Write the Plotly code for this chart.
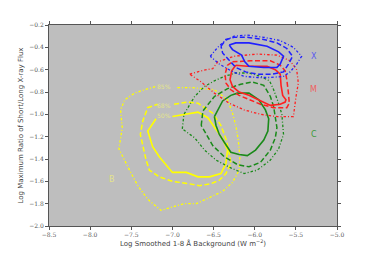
import plotly.graph_objects as go

# ---------------- data (data units) ----------------
# Yellow (B class)
b50_x = [-7.00, -6.86, -6.69, -6.57, -6.45, -6.39, -6.33, -6.35, -6.41, -6.55, -6.69, -6.83, -7.00, -7.16, -7.24, -7.30, -7.20]
b50_y = [-1.02, -1.00, -0.98, -1.03, -1.15, -1.22, -1.32, -1.44, -1.53, -1.56, -1.56, -1.52, -1.52, -1.38, -1.29, -1.15, -1.04]
b68_x = [-6.98, -6.81, -6.69, -6.51, -6.41, -6.35, -6.31, -6.29, -6.35, -6.43, -6.53, -6.67, -6.81, -7.00, -7.16, -7.28, -7.32, -7.36, -7.39, -7.36, -7.30, -7.18]
b68_y = [-0.91, -0.89, -0.90, -0.99, -1.10, -1.22, -1.34, -1.44, -1.53, -1.59, -1.62, -1.64, -1.62, -1.60, -1.56, -1.50, -1.41, -1.29, -1.18, -1.06, -0.94, -0.91]
b85_x = [-6.94, -6.77, -6.49, -6.33, -6.27, -6.23, -6.20, -6.18, -6.19, -6.27, -6.39, -6.57, -6.71, -6.86, -7.00, -7.14, -7.30, -7.42, -7.50, -7.58, -7.65, -7.61, -7.63, -7.58, -7.46, -7.34, -7.20]
b85_y = [-0.76, -0.76, -0.78, -0.87, -0.99, -1.10, -1.23, -1.38, -1.50, -1.61, -1.69, -1.75, -1.80, -1.80, -1.83, -1.86, -1.76, -1.64, -1.53, -1.41, -1.31, -1.12, -0.96, -0.87, -0.81, -0.78, -0.75]

# Green (C class)
c50_x = [-6.49, -6.39, -6.29, -6.21, -6.07, -5.95, -5.87, -5.83, -5.84, -5.89, -5.99, -6.09, -6.19, -6.29, -6.37, -6.43, -6.47, -6.49]
c50_y = [-1.02, -0.88, -0.83, -0.81, -0.81, -0.87, -0.96, -1.04, -1.15, -1.23, -1.32, -1.37, -1.36, -1.34, -1.25, -1.18, -1.10, -1.02]
c68_x = [-6.65, -6.63, -6.49, -6.33, -6.17, -6.03, -5.89, -5.81, -5.77, -5.75, -5.73, -5.75, -5.81, -5.93, -6.07, -6.21, -6.37, -6.51, -6.61, -6.65]
c68_y = [-1.10, -0.97, -0.84, -0.77, -0.73, -0.71, -0.74, -0.84, -0.93, -1.04, -1.12, -1.21, -1.32, -1.43, -1.47, -1.45, -1.38, -1.28, -1.16, -1.10]
c85_x = [-6.88, -6.86, -6.73, -6.61, -6.49, -6.37, -6.23, -6.07, -5.93, -5.82, -5.77, -5.71, -5.67, -5.65, -5.71, -5.81, -5.97, -6.13, -6.29, -6.47, -6.61, -6.73, -6.88]
c85_y = [-1.13, -1.00, -0.84, -0.75, -0.70, -0.66, -0.63, -0.63, -0.66, -0.70, -0.78, -0.90, -1.00, -1.18, -1.31, -1.41, -1.50, -1.53, -1.48, -1.41, -1.32, -1.21, -1.13]

# Red (M class)
m50_x = [-6.23, -6.09, -5.85, -5.75, -5.69, -5.68, -5.66, -5.62, -5.63, -5.69, -5.81, -5.93, -6.07, -6.19, -6.27, -6.30, -6.28, -6.23]
m50_y = [-0.56, -0.57, -0.57, -0.60, -0.64, -0.74, -0.83, -0.87, -0.89, -0.91, -0.92, -0.88, -0.83, -0.80, -0.75, -0.69, -0.61, -0.56]
m68_x = [-6.27, -6.05, -5.81, -5.69, -5.63, -5.61, -5.59, -5.58, -5.61, -5.77, -5.93, -6.07, -6.19, -6.29, -6.35, -6.36, -6.33, -6.27]
m68_y = [-0.53, -0.52, -0.52, -0.56, -0.61, -0.69, -0.81, -0.90, -0.94, -0.94, -0.91, -0.87, -0.83, -0.78, -0.72, -0.64, -0.56, -0.53]
m85_x = [-6.79, -6.65, -6.51, -6.45, -6.25, -5.97, -5.73, -5.57, -5.49, -5.47, -5.50, -5.53, -5.73, -5.93, -6.13, -6.31, -6.49, -6.65, -6.79]
m85_y = [-0.64, -0.61, -0.59, -0.53, -0.48, -0.46, -0.47, -0.52, -0.60, -0.72, -0.85, -1.02, -1.02, -1.00, -0.96, -0.90, -0.81, -0.71, -0.64]

# Blue (X class)
x50_x = [-6.31, -6.23, -6.07, -5.85, -5.71, -5.65, -5.69, -5.73, -5.89, -6.07, -6.12, -6.16, -6.27, -6.31]
x50_y = [-0.38, -0.36, -0.36, -0.39, -0.44, -0.48, -0.55, -0.58, -0.58, -0.57, -0.53, -0.47, -0.42, -0.38]
x68_x = [-6.41, -6.35, -6.25, -6.09, -5.89, -5.73, -5.61, -5.54, -5.59, -5.65, -5.79, -5.97, -6.11, -6.23, -6.33, -6.39, -6.41]
x68_y = [-0.39, -0.33, -0.31, -0.31, -0.33, -0.36, -0.41, -0.48, -0.55, -0.62, -0.64, -0.64, -0.62, -0.58, -0.50, -0.45, -0.39]
x85_x = [-6.54, -6.45, -6.36, -6.25, -6.09, -5.89, -5.69, -5.53, -5.43, -5.49, -5.57, -5.65, -5.81, -5.97, -6.13, -6.29, -6.43, -6.54]
x85_y = [-0.48, -0.40, -0.34, -0.30, -0.29, -0.31, -0.34, -0.40, -0.48, -0.55, -0.62, -0.66, -0.67, -0.67, -0.66, -0.61, -0.55, -0.48]

pct_labels = ["50%", "68%", "85%"]
pct_x = [-7.10, -7.10, -7.10]
pct_y = [-1.01, -0.92, -0.755]

class_labels = ["X", "M", "C", "B"]
class_x = [-5.28, -5.28, -5.28, -7.73]
class_y = [-0.48, -0.78, -1.18, -1.58]
class_colors = ["#5a5af0", "#f06060", "#3a9a3a", "#e4e48a"]

x_ticks = [-8.5, -8.0, -7.5, -7.0, -6.5, -6.0, -5.5, -5.0]
y_ticks = [-2.0, -1.8, -1.6, -1.4, -1.2, -1.0, -0.8, -0.6, -0.4, -0.2]

# ---------------- figure ----------------
DASH = "5px,2.5px"
DOT = "2.5px,2px,1px,2px"

series = [
    (b85_x, b85_y, "#ffff00", DOT, 1.3),
    (b68_x, b68_y, "#ffff00", DASH, 1.5),
    (b50_x, b50_y, "#ffff00", "solid", 1.6),
    (c85_x, c85_y, "#1a8a1a", DOT, 1.3),
    (c68_x, c68_y, "#1a8a1a", DASH, 1.5),
    (c50_x, c50_y, "#1a8a1a", "solid", 1.6),
    (m85_x, m85_y, "#ff2020", DOT, 1.3),
    (m68_x, m68_y, "#ff2020", DASH, 1.5),
    (m50_x, m50_y, "#ff2020", "solid", 1.6),
    (x85_x, x85_y, "#2020ff", DOT, 1.3),
    (x68_x, x68_y, "#2020ff", DASH, 1.5),
    (x50_x, x50_y, "#2020ff", "solid", 1.6),
]

fig = go.Figure()
for xs, ys, col, dash, w in series:
    fig.add_trace(go.Scatter(x=xs, y=ys, mode="lines",
                             line=dict(color=col, dash=dash, width=w),
                             hoverinfo="skip", showlegend=False))

for t, tx, ty in zip(pct_labels, pct_x, pct_y):
    fig.add_annotation(x=tx, y=ty, text=t, showarrow=False,
                       font=dict(family="DejaVu Sans", size=6, color="#e4e48a"))

for t, tx, ty, c in zip(class_labels, class_x, class_y, class_colors):
    fig.add_annotation(x=tx, y=ty, text=t, showarrow=False,
                       font=dict(family="DejaVu Sans", size=8, color=c))

axis_common = dict(
    showgrid=False, zeroline=False, showline=True, linecolor="#555555", linewidth=1,
    mirror="ticks", ticks="outside", ticklen=3, tickwidth=1, tickcolor="#555555",
    tickfont=dict(family="DejaVu Serif", size=6, color="#555555"),
    tickformat=".1f",
)

fig.update_layout(
    width=366, height=249,
    margin=dict(l=39, r=37, t=17, b=26),
    paper_bgcolor="white", plot_bgcolor="#bebebe",
    xaxis=dict(range=[-8.5, -5.0], tickvals=x_ticks,
               title=dict(text="Log Smoothed 1-8 Å Background (W m<sup>−2</sup>)",
                          font=dict(family="DejaVu Sans", size=7, color="#444444"), standoff=2),
               **axis_common),
    yaxis=dict(range=[-2.0, -0.2], tickvals=y_ticks,
               title=dict(text="Log Maximum Ratio of Short/Long X-ray Flux",
                          font=dict(family="DejaVu Sans", size=7, color="#444444"), standoff=4),
               **axis_common),
)

fig.write_html("out.html")
